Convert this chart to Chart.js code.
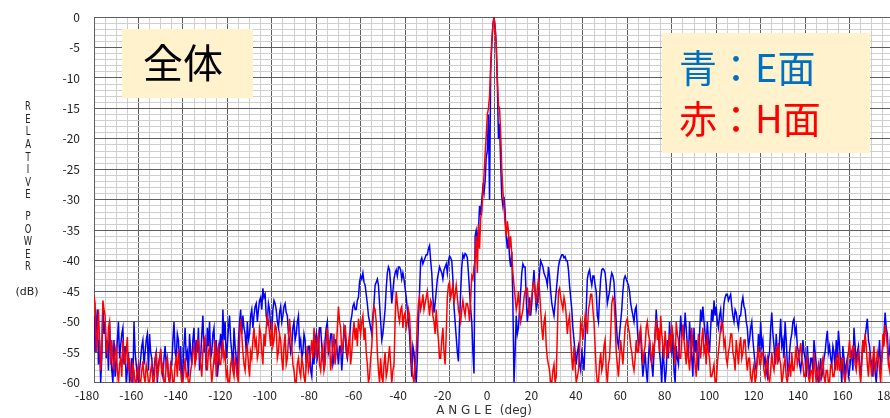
<!DOCTYPE html>
<html>
<head>
<meta charset="utf-8">
<script src="https://cdn.jsdelivr.net/npm/chart.js@4"></script>
<style>
  body { margin: 0; overflow: hidden; background: #fff; }
  #wrap { width: 920px; height: 418px; }
</style>
</head>
<body>
<div id="wrap"><canvas id="pattern"></canvas></div>
<script>
// 角度 (deg) 0.5 度刻み
const angles = [
  -180,-179.5,-179,-178.5,-178,-177.5,-177,-176.5,-176,-175.5,
  -175,-174.5,-174,-173.5,-173,-172.5,-172,-171.5,-171,-170.5,
  -170,-169.5,-169,-168.5,-168,-167.5,-167,-166.5,-166,-165.5,
  -165,-164.5,-164,-163.5,-163,-162.5,-162,-161.5,-161,-160.5,
  -160,-159.5,-159,-158.5,-158,-157.5,-157,-156.5,-156,-155.5,
  -155,-154.5,-154,-153.5,-153,-152.5,-152,-151.5,-151,-150.5,
  -150,-149.5,-149,-148.5,-148,-147.5,-147,-146.5,-146,-145.5,
  -145,-144.5,-144,-143.5,-143,-142.5,-142,-141.5,-141,-140.5,
  -140,-139.5,-139,-138.5,-138,-137.5,-137,-136.5,-136,-135.5,
  -135,-134.5,-134,-133.5,-133,-132.5,-132,-131.5,-131,-130.5,
  -130,-129.5,-129,-128.5,-128,-127.5,-127,-126.5,-126,-125.5,
  -125,-124.5,-124,-123.5,-123,-122.5,-122,-121.5,-121,-120.5,
  -120,-119.5,-119,-118.5,-118,-117.5,-117,-116.5,-116,-115.5,
  -115,-114.5,-114,-113.5,-113,-112.5,-112,-111.5,-111,-110.5,
  -110,-109.5,-109,-108.5,-108,-107.5,-107,-106.5,-106,-105.5,
  -105,-104.5,-104,-103.5,-103,-102.5,-102,-101.5,-101,-100.5,
  -100,-99.5,-99,-98.5,-98,-97.5,-97,-96.5,-96,-95.5,
  -95,-94.5,-94,-93.5,-93,-92.5,-92,-91.5,-91,-90.5,
  -90,-89.5,-89,-88.5,-88,-87.5,-87,-86.5,-86,-85.5,
  -85,-84.5,-84,-83.5,-83,-82.5,-82,-81.5,-81,-80.5,
  -80,-79.5,-79,-78.5,-78,-77.5,-77,-76.5,-76,-75.5,
  -75,-74.5,-74,-73.5,-73,-72.5,-72,-71.5,-71,-70.5,
  -70,-69.5,-69,-68.5,-68,-67.5,-67,-66.5,-66,-65.5,
  -65,-64.5,-64,-63.5,-63,-62.5,-62,-61.5,-61,-60.5,
  -60,-59.5,-59,-58.5,-58,-57.5,-57,-56.5,-56,-55.5,
  -55,-54.5,-54,-53.5,-53,-52.5,-52,-51.5,-51,-50.5,
  -50,-49.5,-49,-48.5,-48,-47.5,-47,-46.5,-46,-45.5,
  -45,-44.5,-44,-43.5,-43,-42.5,-42,-41.5,-41,-40.5,
  -40,-39.5,-39,-38.5,-38,-37.5,-37,-36.5,-36,-35.5,
  -35,-34.5,-34,-33.5,-33,-32.5,-32,-31.5,-31,-30.5,
  -30,-29.5,-29,-28.5,-28,-27.5,-27,-26.5,-26,-25.5,
  -25,-24.5,-24,-23.5,-23,-22.5,-22,-21.5,-21,-20.5,
  -20,-19.5,-19,-18.5,-18,-17.5,-17,-16.5,-16,-15.5,
  -15,-14.5,-14,-13.5,-13,-12.5,-12,-11.5,-11,-10.5,
  -10,-9.5,-9,
  -8.5,-8,-7.5,-7,-6.5,-6,-5.5,-5,-4.5,-4,-3.5,-3,-2.5,-2,-1.5,-1,-0.5,
  0,0.5,1,1.5,2,2.5,3,3.5,4,4.5,5,5.5,6,6.5,7,7.5,8,8.5,
  9,9.5,
  10,10.5,11,11.5,12,12.5,13,13.5,14,14.5,
  15,15.5,16,16.5,17,17.5,18,18.5,19,19.5,
  20,20.5,21,21.5,22,22.5,23,23.5,24,24.5,
  25,25.5,26,26.5,27,27.5,28,28.5,29,29.5,
  30,30.5,31,31.5,32,32.5,33,33.5,34,34.5,
  35,35.5,36,36.5,37,37.5,38,38.5,39,39.5,
  40,40.5,41,41.5,42,42.5,43,43.5,44,44.5,
  45,45.5,46,46.5,47,47.5,48,48.5,49,49.5,
  50,50.5,51,51.5,52,52.5,53,53.5,54,54.5,
  55,55.5,56,56.5,57,57.5,58,58.5,59,59.5,
  60,60.5,61,61.5,62,62.5,63,63.5,64,64.5,
  65,65.5,66,66.5,67,67.5,68,68.5,69,69.5,
  70,70.5,71,71.5,72,72.5,73,73.5,74,74.5,
  75,75.5,76,76.5,77,77.5,78,78.5,79,79.5,
  80,80.5,81,81.5,82,82.5,83,83.5,84,84.5,
  85,85.5,86,86.5,87,87.5,88,88.5,89,89.5,
  90,90.5,91,91.5,92,92.5,93,93.5,94,94.5,
  95,95.5,96,96.5,97,97.5,98,98.5,99,99.5,
  100,100.5,101,101.5,102,102.5,103,103.5,104,104.5,
  105,105.5,106,106.5,107,107.5,108,108.5,109,109.5,
  110,110.5,111,111.5,112,112.5,113,113.5,114,114.5,
  115,115.5,116,116.5,117,117.5,118,118.5,119,119.5,
  120,120.5,121,121.5,122,122.5,123,123.5,124,124.5,
  125,125.5,126,126.5,127,127.5,128,128.5,129,129.5,
  130,130.5,131,131.5,132,132.5,133,133.5,134,134.5,
  135,135.5,136,136.5,137,137.5,138,138.5,139,139.5,
  140,140.5,141,141.5,142,142.5,143,143.5,144,144.5,
  145,145.5,146,146.5,147,147.5,148,148.5,149,149.5,
  150,150.5,151,151.5,152,152.5,153,153.5,154,154.5,
  155,155.5,156,156.5,157,157.5,158,158.5,159,159.5,
  160,160.5,161,161.5,162,162.5,163,163.5,164,164.5,
  165,165.5,166,166.5,167,167.5,168,168.5,169,169.5,
  170,170.5,171,171.5,172,172.5,173,173.5,174,174.5,
  175,175.5,176,176.5,177,177.5,178,178.5,179,179.5,
  180
];

// 青 : E面 (dB)
const ePlane = [
  -49,-55,-51,-48,-57,-53,-60,-56,-47,-52,
  -50,-56,-53,-58,-50,-55,-58,-60,-53,-59,
  -57,-53,-50,-56,-54,-52,-51,-57,-54,-60,
  -58,-55,-60,-59,-56,-60,-50,-55,-57,-59,
  -60,-58,-56,-54,-53,-57,-55,-53,-52,-58,
  -52,-55,-56,-59,-58,-56,-55,-60,-57,-56,
  -55,-58,-59,-56,-54,-57,-56,-59,-60,-58,
  -57,-53,-50,-55,-56,-52,-53,-58,-54,-60,
  -58,-54,-51,-56,-55,-59,-52,-55,-57,-53,
  -51,-57,-53,-55,-51,-58,-56,-52,-49,-55,
  -53,-58,-51,-54,-50,-56,-55,-52,-51,-57,
  -53,-59,-57,-54,-52,-56,-48,-53,-50,-56,
  -54,-51,-49,-53,-55,-58,-51,-54,-56,-59,
  -53,-50,-48,-52,-49,-51,-52,-55,-50,-53,
  -52,-49,-48,-51,-49,-47.5,-47,-50,-48,-46.5,
  -46,-48,-44.5,-46,-45.5,-49,-50,-47,-48,-51,
  -52,-48,-46.5,-47,-48,-50,-51,-48.5,-47.5,-50,
  -49,-47.5,-47,-48.5,-49,-52,-53,-55,-54,-51,
  -50,-53,-52,-50,-49,-54,-53,-56,-55,-52,
  -53,-57,-56,-54,-54,-58,-59,-55,-57,-53,
  -52,-56,-55,-51,-51,-54,-56,-58,-53,-51,
  -50,-55,-54,-52,-52,-57,-56,-53,-53,-55,
  -57,-54,-54,-58,-55,-51,-52,-55,-56,-54,
  -53,-50,-49,-47.5,-47,-48,-48,-46.5,-46,-43.5,
  -42.5,-43,-42,-43.5,-44,-45.5,-47,-49,-50,-51,
  -52,-49,-47,-44,-43.5,-43,-44,-47,-50,-53,
  -52,-50,-48,-44.5,-42,-41,-41.5,-44,-47,-45,
  -43,-42,-41.5,-42.5,-41,-41,-41.5,-43,-42,-43,
  -44.5,-46,-48,-50,-52,-56,-59,-54,-55,-58,
  -60,-56,-50,-45,-40,-39.5,-40.5,-40,-39.5,-39,
  -39,-38,-37.5,-40,-42,-46,-48.5,-47,-45,-43,
  -42,-41,-41.5,-42,-43,-41.5,-41,-40.5,-42,-40,
  -39.2,-39.5,-40,-43,-47.5,-50,-52.5,-55,-56.5,-50,
  -45,-41,-39,-39.5,-38.8,-39,-39.5,-42,-45,-48,
  -50,-55,-58.5,
  -36,-35,-36.5,-35,-31,-32.5,-30,-28,-29,-27,-23,-22,-16,-30,-9,-4.5,-1.2,
  0,-1.5,-4.5,-11,-20,-17.5,-24,-29.5,-31,-29.5,-32,-36,-38,-36,-39.5,-41,-38.5,-47,
  -60,-55,
  -49,-52,-51,-48,-45,-42,-40.5,-41,-41,-46,
  -50,-48,-46,-49,-47,-44,-41.5,-45,-48,-47,
  -45,-42,-40,-40.5,-41,-42,-42.5,-43,-44,-41,
  -42.5,-45,-47,-48,-49,-47,-45,-43,-41,-40,
  -39.5,-39,-39,-39.5,-39.3,-40,-40,-41.5,-44,-46,
  -48,-51,-53,-55,-57,-55,-54,-57,-58,-55,
  -56,-58,-53,-48,-43,-42,-41.5,-43,-44,-42.5,
  -42.5,-44,-45,-49,-50,-46,-43,-41.5,-41.3,-41.5,
  -42,-44,-47,-46,-45,-43,-42,-42.5,-43.5,-47,
  -50,-53,-54,-52,-50,-48,-45,-43,-42.5,-43,
  -43.5,-44,-45,-47,-48,-49,-50,-48,-47.5,-51,
  -54,-53,-52,-56,-59,-57,-55,-58,-60,-56,
  -53,-56,-57,-59,-55,-52,-48,-51,-52,-55,
  -57,-60,-54,-57,-60,-58,-53,-56,-50,-54,
  -55,-52,-58,-60,-54,-56,-57,-53,-49,-52,
  -51,-53,-48.5,-51,-54,-56,-50,-53,-56,-59,
  -51,-55,-53,-56,-58,-52,-48,-50,-47.5,-50,
  -52,-54,-50,-53,-55,-51,-48,-50,-46.5,-49,
  -47.5,-50,-51,-49,-48,-51,-50,-47,-46,-45.5,
  -45.5,-46.5,-46,-45.5,-47.5,-49,-50,-48,-48.5,-50,
  -51,-49,-49,-47,-46,-47.5,-48,-50,-51,-54,
  -53,-51,-50,-53,-55,-57,-58,-56,-52,-55,
  -50,-54,-53,-57,-56,-58,-59,-56,-55,-51,
  -48.5,-52,-54,-57,-52,-55,-56,-53,-49.5,-54,
  -53,-56,-50,-53,-57,-59,-55,-53,-52,-50,
  -49.5,-52,-51,-54,-55,-57,-58,-56,-53,-55,
  -56,-59,-54,-57,-59,-56,-56,-58,-53,-55,
  -57,-59,-60,-58,-56,-59,-58,-56,-55,-53,
  -51.5,-55,-54,-56,-57,-54,-55,-58,-53,-56,
  -51.5,-54,-57,-60,-54,-56,-59,-57,-56,-59,
  -58,-56,-55,-58,-51,-54,-57,-55,-54,-57,
  -59,-56,-53,-55,-52.5,-51,-49.5,-53,-54,-56,
  -57,-59,-55,-58,-60,-57,-56,-53,-58,-56,
  -54,-52,-48.5,-51,-52,-56,-55,-52,-51,-53,
  -50
];

// 赤 : H面 (dB)
const hPlane = [
  -45.7,-47,-55,-52,-48,-53,-58,-55,-46.5,-48,
  -49,-54,-55,-51,-50,-57,-53,-56,-58,-55,
  -54,-58,-60,-57,-56,-59,-53,-55,-57,-55,
  -52.5,-58,-56,-59,-60,-57,-58,-60,-60,-58,
  -57,-60,-60,-58,-56.5,-59,-60,-57,-58,-60,
  -60,-58,-57,-60,-60,-57,-55,-59,-58,-56,
  -54.5,-58,-57,-60,-60,-57,-56,-59,-60,-57,
  -58,-60,-60,-57,-56,-59,-54.5,-57,-58,-60,
  -60,-58,-56,-59,-58.5,-60,-60,-58,-57,-55,
  -54,-57,-56,-53,-53,-55,-57,-59,-55,-53,
  -52.5,-56,-58,-55,-54,-57,-60,-58,-56,-53,
  -59,-55,-54,-57,-57,-55,-53,-56,-55,-59,
  -58,-60,-60,-57,-56,-58,-59,-56,-57,-59,
  -60,-53,-49.5,-52,-55,-57,-58,-55,-54,-57,
  -59,-55,-56,-53,-51,-54,-53,-56,-55,-51,
  -52,-55,-57,-52,-54,-51,-49,-50,-52,-54,
  -50,-54,-53,-50.5,-51,-56,-55,-52,-53,-56,
  -58,-54,-52,-57,-56,-53,-49.5,-52,-54,-57,
  -58,-60,-60,-57,-56,-58,-59,-56,-57,-59,
  -60,-57,-54,-58,-57,-55,-53,-56,-51,-54,
  -56,-53,-52,-57,-58,-55,-54,-58,-57,-53,
  -51,-55,-53,-58,-56,-54,-52,-57,-55,-51,
  -47.5,-50,-51,-55,-54,-52,-50.5,-53,-56,-54,
  -52,-57,-55,-52,-50,-53,-51,-54,-49.5,-51,
  -52,-50,-49,-53,-51,-55,-57,-60,-59,-56,
  -54,-50,-47.5,-48,-50,-55,-58,-60,-56,-59,
  -60,-57,-55,-59,-58,-56,-54,-57,-60,-58,
  -57,-50,-45,-47,-49,-50,-48,-47.5,-51,-49,
  -48.5,-51,-50,-48,-49,-53,-57,-59,-60,-57,
  -55,-50,-47,-46,-48,-47,-45.5,-48,-47,-46,
  -45,-47,-49,-46.5,-47,-49,-50,-52,-48,-51,
  -53,-56,-56,-53,-51,-55,-57,-52,-46,-44,
  -43.5,-46,-45,-44,-47,-45.5,-44,-46,-48,-49,
  -50,-48,-46.5,-48,-49,-47,-47,-48,-50,-46,
  -42.5,-43,-41,
  -40,-36,-42,-34,-38,-33,-32,-29,-26,-22.5,-19.5,-16,-15,-13,-8,-4,-1.5,
  0,-1.8,-4.5,-10,-14.5,-15,-19,-25,-28.5,-31,-34,-36,-33.5,-35,-38,-36,-39,-42,
  -44,-46,
  -48,-47,-45,-48,-50,-49,-48,-46,-45,-44.5,
  -44.5,-47,-49,-47,-46,-44,-43.5,-45,-47,-44.5,
  -43,-45,-48,-51,-53,-50,-49,-54,-56,-57,
  -58,-60,-60,-58,-57,-60,-59,-52,-45,-44.5,
  -46,-47,-48,-46,-47,-49,-52,-50,-49,-53,
  -56,-58,-54,-57,-60,-59,-58,-55,-50,-51,
  -53,-51,-49,-50,-52,-48,-47,-45.5,-45.5,-48,
  -50,-54,-58,-60,-60,-57,-55,-58,-57,-54,
  -53,-58,-60,-57,-56,-52,-47,-46,-46.5,-50,
  -55,-57,-59,-56,-53,-55,-57,-54,-51,-50,
  -49.5,-51,-52,-54,-55,-57,-58,-56,-53,-55,
  -55,-52,-51,-54,-57,-55,-54,-51,-50,-52,
  -53,-55,-57,-54,-55,-52,-49.5,-53,-51,-55,
  -49,-52,-54,-56,-51.5,-54,-56,-54,-52,-55,
  -50.5,-52,-54,-57,-50,-52,-53,-56,-56,-53,
  -50.5,-53,-55,-57,-53,-56,-58,-55,-51,-54,
  -55,-57,-59,-55,-52,-54,-56,-53,-51,-55,
  -54,-57,-52,-55,-56,-59,-59,-58,-57,-60,
  -60,-57,-55,-53,-51,-50,-50.5,-54,-53,-56,
  -57,-55,-54,-52,-52,-55,-56,-58,-53,-55,
  -57,-54,-52.5,-56,-55,-53,-53,-56,-58,-56,
  -56,-59,-60,-58,-57,-60,-59,-56,-54,-57,
  -57,-55,-55,-58,-59,-57,-56,-59,-60,-58,
  -55,-57,-58,-56,-54,-57,-53.5,-56,-57,-60,
  -59,-57,-56,-59,-60,-58,-57,-59,-55,-58,
  -58,-56,-54,-57,-56,-55,-53.5,-56,-57,-59,
  -59,-57,-56,-59,-60,-58,-58,-60,-55,-58,
  -60,-58,-57,-60,-59,-57,-56,-59,-60,-58,
  -58,-60,-60,-57,-57,-59,-59,-57,-56,-58,
  -55,-58,-58,-56,-56,-59,-60,-58,-57,-55,
  -53,-56,-56,-54,-54,-57,-58,-56,-55,-58,
  -60,-57,-53,-55,-52,-54,-57,-59,-55,-57,
  -59,-56,-54,-58,-57,-55,-56,-58,-60,-56,
  -52,-54,-50.5,-52,-54,-57,-58,-55,-53,-52,
  -51
];

const xTicks = { min: -180, max: 180, step: 5, labelEvery: 20 };
const yTicks = { min: -60, max: 0, step: 1, labelEvery: 5 };

const darkGrid = "#5f5f5f";
const lightGrid = "#cfcfcf";

// 図中の文字 (全体 / 凡例 / 軸名)
const annotate = {
  id: "annotate",
  afterDraw(chart) {
    const c = chart.ctx;
    c.save();
    c.fillStyle = "#fff2cc";
    c.fillRect(122, 29, 131, 69);
    c.fillRect(662, 33, 208, 120);

    c.textBaseline = "middle";
    c.font = "40px 'Noto Sans CJK JP'";
    c.fillStyle = "#000";
    c.textAlign = "center";
    c.fillText("全体", 183, 63);

    c.textAlign = "left";
    c.font = "38px 'Noto Sans CJK JP'";
    c.fillStyle = "#0070c0";
    c.fillText("青：E面", 679, 68);
    c.fillStyle = "#ff0000";
    c.fillText("赤：H面", 679, 119);

    // 縦書きの軸名
    c.fillStyle = "#222";
    c.font = "12px 'DejaVu Sans'";
    c.textAlign = "center";
    const word1 = "RELATIVE";
    const word2 = "POWER";
    for (let i = 0; i < word1.length; i++) {
      c.save();
      c.translate(28, 107 + i * 12.6);
      c.scale(0.7, 1);
      c.fillText(word1[i], 0, 0);
      c.restore();
    }
    for (let i = 0; i < word2.length; i++) {
      c.save();
      c.translate(28, 217 + i * 12.5);
      c.scale(0.7, 1);
      c.fillText(word2[i], 0, 0);
      c.restore();
    }
    c.font = "11px 'DejaVu Sans'";
    c.fillText("(dB)", 27, 292);

    // 横軸名
    c.font = "12px 'DejaVu Sans'";
    c.fillStyle = "#333";
    c.fillText("A N G L E  (deg)", 484, 411);
    c.restore();
  },
};

let ctx = document.getElementById("pattern").getContext("2d");
let chart = new Chart(ctx, {
  type: "line",
  data: {
    datasets: [
      {
        label: "H面",
        data: angles.map((a, i) => ({ x: a, y: hPlane[i] })),
        borderColor: "#ff0000",
        borderWidth: 1.5,
        pointRadius: 0,
      },
      {
        label: "E面",
        data: angles.map((a, i) => ({ x: a, y: ePlane[i] })),
        borderColor: "#0000ff",
        borderWidth: 1.5,
        pointRadius: 0,
      },
    ],
  },
  options: {
    responsive: true,
    maintainAspectRatio: false,
    animation: false,
    layout: { padding: { top: 17, right: 26, left: 0, bottom: 0 } },
    plugins: {
      legend: { display: false },
      tooltip: { enabled: false },
    },
    scales: {
      x: {
        type: "linear",
        min: xTicks.min,
        max: xTicks.max,
        afterFit: (s) => { s.height = 35.3; },
        border: { color: darkGrid },
        grid: {
          drawTicks: false,
          color: (c) => (c.tick.value % xTicks.labelEvery === 0 ? darkGrid : lightGrid),
        },
        ticks: {
          stepSize: xTicks.step,
          maxTicksLimit: 200,
          autoSkip: false,
          maxRotation: 0,
          padding: 6,
          labelOffset: -7,
          color: "#222",
          font: { family: "'Noto Sans CJK JP'", size: 12 },
          callback: (v) => (v % xTicks.labelEvery === 0 ? v : ""),
        },
      },
      y: {
        min: yTicks.min,
        max: yTicks.max,
        afterFit: (s) => {
          s.width = 94;
          s.paddingTop = 0;
          s.paddingBottom = 0;
        },
        border: { color: darkGrid },
        grid: {
          drawTicks: false,
          color: (c) => (c.tick.value % yTicks.labelEvery === 0 ? darkGrid : lightGrid),
        },
        ticks: {
          stepSize: yTicks.step,
          maxTicksLimit: 200,
          autoSkip: false,
          padding: 14,
          color: "#222",
          font: { family: "'Noto Sans CJK JP'", size: 12 },
          callback: (v) => (v % yTicks.labelEvery === 0 ? v : ""),
        },
      },
    },
  },
  plugins: [annotate],
});
</script>
</body>
</html>
